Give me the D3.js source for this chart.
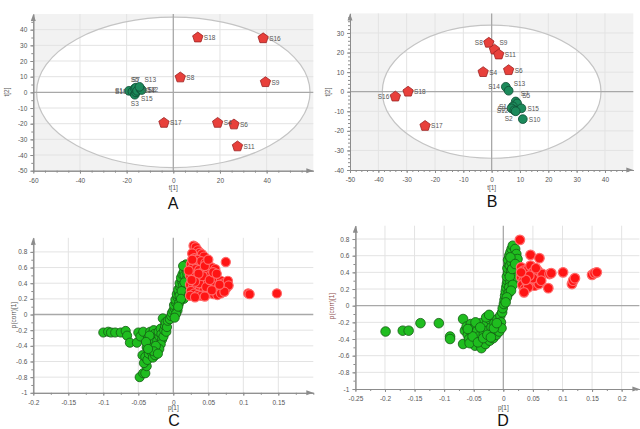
<!DOCTYPE html>
<html>
<head>
<meta charset="utf-8">
<script src="https://cdn.jsdelivr.net/npm/d3@7"></script>
<style>
  body { margin: 0; background: #fff; }
  svg { display: block; font-family: "Liberation Sans", Arial, sans-serif; }
</style>
</head>
<body>
<div id="chart"></div>
<script>
// ---- data ----
// score plot A: [sample, t1, t2]
const scoresA_red = [["S18",10.5,35],["S16",38.5,34.5],["S8",3,9.5],["S9",39.5,6.5],
  ["S17",-4,-19.5],["S4",19,-19.5],["S6",26,-20.5],["S11",27.5,-34.5]];
const scoresA_green = [["S1",-19,1],["S10",-17.5,0.5],["S3",-16.5,-1.5],["S15",-16,0],
  ["S5",-16.5,2.5],["S7",-16,3],["S14",-15.5,1],["S12",-14,2],["S2",-13.5,1.5],["S13",-14.5,3.5]];
const labelsA = {S1:"l",S10:"l",S3:"b",S15:"br",S5:"t",S7:"t",S14:"r",S12:"r",S2:"r",S13:"tr"};

// score plot B
const scoresB_red = [["S8",-1,25],["S9",1,21.5],["S11",2.5,19],["S4",-3,10],["S6",6,11],
  ["S16",-34,-2.5],["S18",-29.5,0],["S17",-23.5,-17.5]];
const scoresB_green = [["S14",5,2.5],["S13",6,0.5],["S7",8.5,-5],["S5",9,-6],["S1",7.5,-7.5],
  ["S3",7,-8.5],["S12",8,-9.5],["S15",10.5,-8.5],["S2",8.5,-10],["S10",11,-14]];
const labelsB = {S8:"l",S9:"tr",S16:"l",S14:"l",S13:"tr",S7:"tr",S5:"tr",S1:"l",S3:"l",S12:"l",S15:"r",S2:"bl",S10:"r"};

// S-plot C: [p1, pcorr1]
const splotC_green = [
  [-0.100,-0.23],[-0.093,-0.22],[-0.089,-0.23],[-0.083,-0.23],[-0.075,-0.23],[-0.068,-0.21],[-0.066,-0.27],
  [-0.062,-0.36],[-0.052,-0.36],[-0.050,-0.23],[-0.047,-0.28],[-0.043,-0.22],
  [-0.048,-0.80],[-0.043,-0.75],[-0.040,-0.75],[-0.038,-0.66],[-0.042,-0.62],[-0.044,-0.52],[-0.040,-0.54],
  [-0.037,-0.58],[-0.035,-0.50],[-0.033,-0.45],[-0.038,-0.42],[-0.035,-0.38],[-0.032,-0.33],[-0.036,-0.30],
  [-0.030,-0.28],[-0.033,-0.22],[-0.028,-0.20],[-0.027,-0.25],[-0.025,-0.30],[-0.027,-0.36],[-0.029,-0.42],
  [-0.031,-0.48],[-0.029,-0.55],[-0.026,-0.52],[-0.024,-0.46],[-0.022,-0.40],[-0.023,-0.34],[-0.020,-0.28],
  [-0.021,-0.22],[-0.018,-0.18],[-0.017,-0.25],[-0.016,-0.32],[-0.018,-0.38],[-0.020,-0.44],[-0.014,-0.28],
  [-0.013,-0.20],[-0.012,-0.14],[-0.015,-0.05],[-0.011,-0.10],[-0.010,-0.22],[-0.009,-0.16],[-0.008,-0.08],
  [-0.025,-0.40],[-0.034,-0.27],[-0.039,-0.35],[-0.028,-0.47],[-0.022,-0.50],[-0.036,-0.44],
  [-0.005,-0.06],[-0.003,-0.02],[-0.002,0.02],[0.000,0.05],[0.002,0.08],[0.001,0.12],[0.004,0.15],
  [0.003,0.19],[0.006,0.22],[0.005,0.26],[0.008,0.28],[0.007,0.32],[0.010,0.35],[0.009,0.40],[0.012,0.43],
  [0.011,0.47],[0.013,0.51],[0.015,0.55],[0.017,0.60],[0.018,0.64],[0.016,0.50],[0.014,0.38],[0.019,0.45],
  [0.020,0.33],[0.017,0.28],[0.012,0.24],[0.015,0.20],[0.010,0.18],[0.008,0.14],[0.006,0.05],[0.004,0.01],
  [0.002,-0.04],[0.020,0.52],[0.021,0.40],[0.022,0.30],[0.018,0.36],[0.021,0.58],[0.014,0.62],[0.009,0.24],
  [0.012,0.30],[0.023,0.26],[0.016,0.41],[0.011,0.20],[0.007,0.10]];
const splotC_red = [
  [0.029,0.88],[0.032,0.86],[0.035,0.82],[0.038,0.79],[0.041,0.77],[0.044,0.74],[0.027,0.78],[0.030,0.72],
  [0.034,0.70],[0.040,0.68],[0.046,0.66],[0.050,0.62],[0.055,0.60],[0.060,0.58],[0.025,0.64],[0.028,0.60],
  [0.032,0.58],[0.037,0.57],[0.043,0.55],[0.048,0.52],[0.053,0.50],[0.058,0.48],[0.063,0.45],[0.068,0.43],
  [0.072,0.40],[0.078,0.43],[0.024,0.50],[0.029,0.48],[0.034,0.46],[0.039,0.44],[0.044,0.42],[0.049,0.40],
  [0.054,0.38],[0.059,0.36],[0.065,0.35],[0.070,0.33],[0.076,0.34],[0.079,0.37],[0.024,0.38],[0.028,0.35],
  [0.033,0.34],[0.038,0.32],[0.043,0.30],[0.048,0.28],[0.053,0.27],[0.058,0.26],[0.063,0.25],[0.068,0.27],
  [0.073,0.29],[0.025,0.30],[0.030,0.27],[0.035,0.25],[0.040,0.24],[0.045,0.23],[0.024,0.24],[0.031,0.22],
  [0.037,0.40],[0.042,0.49],[0.036,0.52],[0.031,0.42],[0.047,0.35],[0.052,0.44],[0.057,0.54],[0.062,0.52],
  [0.066,0.38],[0.027,0.70],[0.022,0.56],[0.026,0.44],[0.055,0.31],[0.045,0.62],[0.050,0.70],
  [0.075,0.67],[0.107,0.27],[0.109,0.26],[0.148,0.27]];

// S-plot D
const splotD_green = [
  [-0.199,-0.31],[-0.170,-0.30],[-0.160,-0.30],[-0.140,-0.21],[-0.109,-0.21],[-0.090,-0.37],[-0.090,-0.40],
  [-0.068,-0.16],[-0.068,-0.46],[-0.065,-0.30],[-0.062,-0.25],[-0.060,-0.35],[-0.058,-0.40],[-0.055,-0.22],
  [-0.053,-0.28],[-0.051,-0.33],[-0.050,-0.42],[-0.048,-0.48],[-0.046,-0.24],[-0.044,-0.30],[-0.042,-0.37],
  [-0.040,-0.44],[-0.038,-0.21],[-0.037,-0.51],[-0.035,-0.27],[-0.033,-0.34],[-0.031,-0.40],[-0.030,-0.46],
  [-0.028,-0.22],[-0.026,-0.30],[-0.025,-0.37],[-0.023,-0.42],[-0.022,-0.17],[-0.020,-0.26],[-0.018,-0.33],
  [-0.017,-0.39],[-0.015,-0.21],[-0.013,-0.29],[-0.012,-0.35],[-0.010,-0.16],[-0.009,-0.24],[-0.007,-0.31],
  [-0.005,-0.12],[-0.004,-0.20],[-0.003,-0.27],[-0.057,-0.45],[-0.052,-0.37],[-0.043,-0.44],[-0.034,-0.39],
  [-0.027,-0.35],[-0.021,-0.38],[-0.016,-0.27],[-0.011,-0.21],[-0.060,-0.28],[-0.047,-0.20],[-0.039,-0.26],
  [-0.029,-0.14],[-0.024,-0.11],
  [-0.002,-0.08],[-0.001,-0.03],[0.001,0.02],[0.002,0.07],[0.003,0.12],[0.004,0.17],[0.005,0.22],[0.006,0.26],
  [0.007,0.30],[0.006,0.35],[0.008,0.40],[0.007,0.45],[0.009,0.50],[0.008,0.55],[0.010,0.60],[0.012,0.64],
  [0.014,0.68],[0.016,0.72],[0.020,0.68],[0.011,0.48],[0.013,0.42],[0.015,0.37],[0.017,0.32],[0.012,0.28],
  [0.010,0.22],[0.014,0.52],[0.018,0.58],[0.022,0.62],[0.019,0.46],[0.021,0.40],[0.023,0.34],[0.011,0.35],
  [0.016,0.25],[0.009,0.15],[0.013,0.18],[0.018,0.55],[0.024,0.56],[0.006,0.10],[0.004,0.04],[0.012,0.58],
  [0.015,0.44],[0.020,0.50]];
const splotD_red = [
  [0.028,0.79],[0.046,0.61],[0.061,0.57],[0.030,0.46],[0.034,0.42],[0.038,0.38],[0.042,0.44],[0.046,0.48],
  [0.050,0.40],[0.054,0.36],[0.058,0.42],[0.062,0.33],[0.066,0.38],[0.030,0.34],[0.034,0.30],[0.040,0.27],
  [0.045,0.32],[0.048,0.26],[0.053,0.24],[0.057,0.29],[0.060,0.26],[0.032,0.25],[0.036,0.20],[0.042,0.22],
  [0.050,0.33],[0.055,0.45],[0.044,0.36],[0.038,0.31],[0.030,0.40],[0.035,0.16],[0.064,0.30],[0.076,0.21],
  [0.078,0.38],[0.081,0.39],[0.101,0.40],[0.116,0.26],[0.118,0.30],[0.121,0.33],[0.150,0.37],[0.154,0.39],
  [0.158,0.40]];

// tick values
const ticksA_x = [-60,-40,-20,0,20,40], ticksA_y = [-50,-40,-30,-20,-10,0,10,20,30,40];
const ticksB_x = [-50,-40,-30,-20,-10,0,10,20,30,40], ticksB_y = [-40,-30,-20,-10,0,10,20,30];
const ticksC_x = [-0.2,-0.15,-0.1,-0.05,0,0.05,0.1,0.15];
const ticksD_x = [-0.25,-0.2,-0.15,-0.1,-0.05,0,0.05,0.1,0.15,0.2];
const ticksS_y = [-1,-0.8,-0.6,-0.4,-0.2,0,0.2,0.4,0.6,0.8];

// ---- drawing ----
const svg = d3.select("#chart").append("svg").attr("width", 640).attr("height", 429);

const pentagon = {
  draw(ctx, size) {
    const r = Math.sqrt(size / 2.378);
    for (let i = 0; i < 5; i++) {
      const a = -Math.PI / 2 + i * 2 * Math.PI / 5;
      i ? ctx.lineTo(r * Math.cos(a), r * Math.sin(a)) : ctx.moveTo(r * Math.cos(a), r * Math.sin(a));
    }
    ctx.closePath();
  }
};

const dirs = {r:[6,2.5,"start"], l:[-6,2.5,"end"], t:[0,-6,"middle"], b:[0,11,"middle"],
  tr:[5,-5,"start"], br:[5,9,"start"], bl:[-3,10,"end"], tl:[-4,-5,"end"]};

function frame(o) {
  const x = d3.scaleLinear().domain(o.xDom).range(o.xRange);
  const y = d3.scaleLinear().domain(o.yDom).range(o.yRange);
  const g = svg.append("g");
  const x0 = o.xRange[0], x1 = o.xRange[1], yb = o.yRange[0], yt = o.yRange[1];

  if (o.bg) g.append("rect").attr("x", x0).attr("y", yt).attr("width", x1 - x0).attr("height", yb - yt).attr("fill", o.bg);
  if (o.ell) g.append("ellipse").attr("cx", x(0)).attr("cy", y(0))
    .attr("rx", x(o.ell[0]) - x(0)).attr("ry", y(0) - y(o.ell[1])).attr("fill", "#fff");

  // grid
  g.append("g").selectAll("line").data(o.xGrid).join("line")
    .attr("x1", d => x(d)).attr("x2", d => x(d)).attr("y1", yt).attr("y2", yb)
    .attr("stroke", "#e3e3e3").attr("stroke-width", 1);
  g.append("g").selectAll("line").data(o.yGrid).join("line")
    .attr("x1", x0).attr("x2", x1).attr("y1", d => y(d)).attr("y2", d => y(d))
    .attr("stroke", "#e3e3e3").attr("stroke-width", 1);

  if (o.ell) g.append("ellipse").attr("cx", x(0)).attr("cy", y(0))
    .attr("rx", x(o.ell[0]) - x(0)).attr("ry", y(0) - y(o.ell[1]))
    .attr("fill", "none").attr("stroke", "#c4c4c4").attr("stroke-width", 1.2);

  // zero lines
  g.append("line").attr("x1", x0).attr("x2", x1).attr("y1", y(0)).attr("y2", y(0)).attr("stroke", "#a8a8a8").attr("stroke-width", 1.3);
  g.append("line").attr("x1", x(0)).attr("x2", x(0)).attr("y1", yt).attr("y2", yb).attr("stroke", "#a8a8a8").attr("stroke-width", 1.3);

  const fmt = d => String(d);
  const ax = g.append("g").attr("transform", `translate(0,${yb})`)
    .call(d3.axisBottom(x).tickValues(o.xTicks).tickSize(3).tickSizeOuter(0).tickFormat(fmt));
  const axm = g.append("g").attr("transform", `translate(0,${yb})`)
    .call(d3.axisBottom(x).tickValues(o.xMinor).tickSize(2).tickSizeOuter(0).tickFormat(""));
  const ay = g.append("g").attr("transform", `translate(${x0},0)`)
    .call(d3.axisLeft(y).tickValues(o.yTicks).tickSize(3).tickSizeOuter(0).tickFormat(fmt));
  const aym = g.append("g").attr("transform", `translate(${x0},0)`)
    .call(d3.axisLeft(y).tickValues(o.yMinor).tickSize(2).tickSizeOuter(0).tickFormat(""));
  [ax, axm, ay, aym].forEach(a => {
    a.selectAll("path").attr("stroke", "#8c8c8c");
    a.selectAll("line").attr("stroke", "#8c8c8c");
    a.selectAll("text").attr("fill", "#555").attr("font-size", 6.5);
  });
  ax.selectAll("text").attr("dy", "0.9em");
  // arrow heads
  g.append("path").attr("d", `M${x1},${yb}l-7,-2.5l0,5z`).attr("fill", "#8c8c8c");
  g.append("path").attr("d", `M${x0},${yt}l-2.5,7l5,0z`).attr("fill", "#8c8c8c");

  // axis titles and panel letter
  g.append("text").attr("x", x(0)).attr("y", o.xTitleY).attr("text-anchor", "middle")
    .attr("font-size", 6.5).attr("fill", "#555").text(o.xTitle);
  g.append("text").attr("transform", `translate(${o.yTitleX},${o.yTitleAt})rotate(-90)`).attr("text-anchor", "middle")
    .attr("font-size", 6.5).attr("fill", o.yTitleColor || "#555").text(o.yTitle);
  g.append("text").attr("x", o.letterX).attr("y", o.letterY).attr("text-anchor", "middle")
    .attr("font-size", 16).attr("fill", "#111").text(o.letter);
  return {g, x, y};
}

function scorePlot(o) {
  const {g, x, y} = frame(o);
  const pts = g.append("g");
  pts.selectAll("circle").data(o.green).join("circle")
    .attr("cx", d => x(d[1])).attr("cy", d => y(d[2])).attr("r", 4.4)
    .attr("fill", "#1c8a5b").attr("stroke", "#0f4d33").attr("stroke-width", 0.8);
  pts.selectAll("path.pent").data(o.red).join("path").attr("class", "pent")
    .attr("transform", d => `translate(${x(d[1])},${y(d[2])})`)
    .attr("d", d3.symbol().type(pentagon).size(70))
    .attr("fill", "#e8403b").attr("stroke", "#9c2222").attr("stroke-width", 0.8);
  g.append("g").selectAll("text").data(o.green.concat(o.red)).join("text")
    .each(function(d) {
      const dd = dirs[o.labels[d[0]] || "r"];
      d3.select(this).attr("x", x(d[1]) + dd[0]).attr("y", y(d[2]) + dd[1]).attr("text-anchor", dd[2]);
    })
    .attr("font-size", 6.5).attr("fill", "#555").text(d => d[0]);
}

function sPlot(o) {
  const {g, x, y} = frame(o);
  g.append("g").selectAll("circle").data(o.green).join("circle")
    .attr("cx", d => x(d[0])).attr("cy", d => y(d[1])).attr("r", o.r)
    .attr("fill", "#1fbd1f").attr("stroke", "#155a15").attr("stroke-width", 0.8);
  g.append("g").selectAll("circle").data(o.red).join("circle")
    .attr("cx", d => x(d[0])).attr("cy", d => y(d[1])).attr("r", o.r)
    .attr("fill", "#ff1414").attr("stroke", "#ff6a6a").attr("stroke-width", 1.2);
}

const minor = (a, b, s) => d3.range(a, b + s / 2, s);

scorePlot({
  xDom: [-60, 60], xRange: [33.3, 313.3], yDom: [-50, 50], yRange: [170.7, 14.0],
  bg: "#f2f2f2", ell: [58.6, 48],
  xTicks: ticksA_x, yTicks: ticksA_y, xGrid: [-40,-20,20,40], yGrid: [-40,-30,-20,-10,10,20,30,40],
  xMinor: minor(-60, 55, 5), yMinor: minor(-50, 45, 5),
  xTitle: "t[1]", xTitleY: 190, yTitle: "t[2]", yTitleX: 9, yTitleAt: 92,
  letter: "A", letterX: 173, letterY: 209,
  red: scoresA_red, green: scoresA_green, labels: labelsA
});

scorePlot({
  xDom: [-50, 50], xRange: [350, 633.3], yDom: [-40, 40], yRange: [170, 13.4],
  bg: "#f2f2f2", ell: [38.6, 34],
  xTicks: ticksB_x, yTicks: ticksB_y, xGrid: [-40,-30,-20,-10,10,20,30,40], yGrid: [-30,-20,-10,10,20,30],
  xMinor: minor(-50, 48, 2), yMinor: minor(-40, 38, 2),
  xTitle: "t[1]", xTitleY: 190, yTitle: "t[2]", yTitleX: 330, yTitleAt: 92,
  letter: "B", letterX: 492, letterY: 207,
  red: scoresB_red, green: scoresB_green, labels: labelsB
});

sPlot({
  xDom: [-0.2, 0.2], xRange: [33.3, 313.3], yDom: [-1, 0.98], yRange: [392.8, 237.8],
  xTicks: ticksC_x, yTicks: ticksS_y,
  xGrid: [-0.2,-0.15,-0.1,-0.05,0.05,0.1,0.15], yGrid: [-0.8,-0.6,-0.4,-0.2,0.2,0.4,0.6,0.8],
  xMinor: minor(-0.2, 0.19, 0.025), yMinor: minor(-1, 0.95, 0.1),
  xTitle: "p[1]", xTitleY: 410, yTitle: "p(corr)[1]", yTitleX: 16, yTitleAt: 315,
  letter: "C", letterX: 174, letterY: 426,
  r: 4.6, red: splotC_red, green: splotC_green
});

sPlot({
  xDom: [-0.25, 0.23], xRange: [355.4, 639.4], yDom: [-1, 0.96], yRange: [389, 225.7],
  xTicks: ticksD_x, yTicks: ticksS_y,
  xGrid: [-0.2,-0.15,-0.1,-0.05,0.05,0.1,0.15,0.2], yGrid: [-0.8,-0.6,-0.4,-0.2,0.2,0.4,0.6,0.8],
  xMinor: minor(-0.25, 0.225, 0.025), yMinor: minor(-1, 0.95, 0.1),
  xTitle: "p[1]", xTitleY: 410, yTitle: "p(corr)[1]", yTitleColor: "#8a4a4a", yTitleX: 334, yTitleAt: 306,
  letter: "D", letterX: 503, letterY: 426,
  r: 4.8, red: splotD_red, green: splotD_green
});
</script>
</body>
</html>
